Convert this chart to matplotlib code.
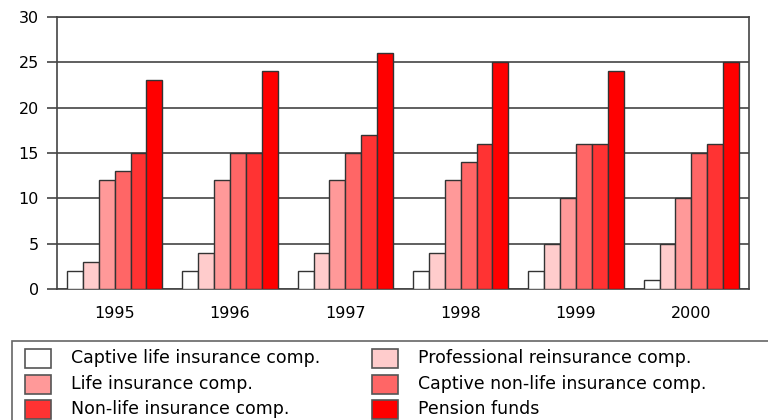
import matplotlib
matplotlib.use("Agg")
import matplotlib.pyplot as plt
import numpy as np
from matplotlib.patches import Rectangle

years = ["1995", "1996", "1997", "1998", "1999", "2000"]
series_names = [
    "Captive life insurance comp.",
    "Professional reinsurance comp.",
    "Life insurance comp.",
    "Captive non-life insurance comp.",
    "Non-life insurance comp.",
    "Pension funds",
]
captive_life = [2, 2, 2, 2, 2, 1]
professional_reins = [3, 4, 4, 4, 5, 5]
life_ins = [12, 12, 12, 12, 10, 10]
captive_nonlife = [13, 15, 15, 14, 16, 15]
nonlife_ins = [15, 15, 17, 16, 16, 16]
pension_funds = [23, 24, 26, 25, 24, 25]
series_values = [captive_life, professional_reins, life_ins,
                 captive_nonlife, nonlife_ins, pension_funds]
colors = ["#FFFFFF", "#FFCCCC", "#FF9999", "#FF6666", "#FF3333", "#FF0000"]

plt.rcParams["font.family"] = ["DejaVu Sans"]
fig = plt.figure(figsize=(7.68, 4.20), dpi=100)
W, H = 768, 420
ax = fig.add_axes([57 / W, 1 - 289 / H, (749 - 57) / W, (289 - 17) / H])

n = len(series_names)
bw = 0.138
x = np.arange(len(years)) + 0.5
for i, (vals, c) in enumerate(zip(series_values, colors)):
    offs = (i - (n - 1) / 2) * bw
    ax.bar(x + offs, vals, width=bw, color=c, edgecolor="#333333",
           linewidth=1.0, zorder=3)

ax.set_xlim(0, len(years))
ax.set_ylim(0, 30)
ax.set_yticks(range(0, 31, 5))
ax.set_xticks(x)
ax.set_xticklabels(years)
ax.grid(axis="y", color="#444444", linewidth=1.2, zorder=0)
for s in ax.spines.values():
    s.set_color("#444444")
    s.set_linewidth(1.2)
ax.tick_params(axis="y", length=7, width=1.2, color="#444444",
               labelsize=11.5, pad=6)
ax.tick_params(axis="x", length=0, labelsize=11.5, pad=12)


def px(xp, yp):
    return xp / W, 1 - yp / H


# legend frame that runs off the right edge
fig.add_artist(Rectangle(px(12, 421), (790 - 12) / W, (421 - 341) / H,
                         transform=fig.transFigure, facecolor="white",
                         edgecolor="#666666", linewidth=1.2, clip_on=False))

# legend entries laid out row by row, two per row
col_x = [25, 372]
row_y = [358, 384, 409]
for k, (name, c) in enumerate(zip(series_names, colors)):
    r, col = divmod(k, 2)
    x0, yc = col_x[col], row_y[r]
    fig.add_artist(Rectangle(px(x0, yc + 9.5), 26 / W, 19 / H,
                             transform=fig.transFigure, facecolor=c,
                             edgecolor="#555555", linewidth=1.2, zorder=5))
    fig.text(*px(x0 + 46, yc), name, fontsize=12.5, va="center",
             ha="left", zorder=4)

fig.savefig("out.png", dpi=100)
